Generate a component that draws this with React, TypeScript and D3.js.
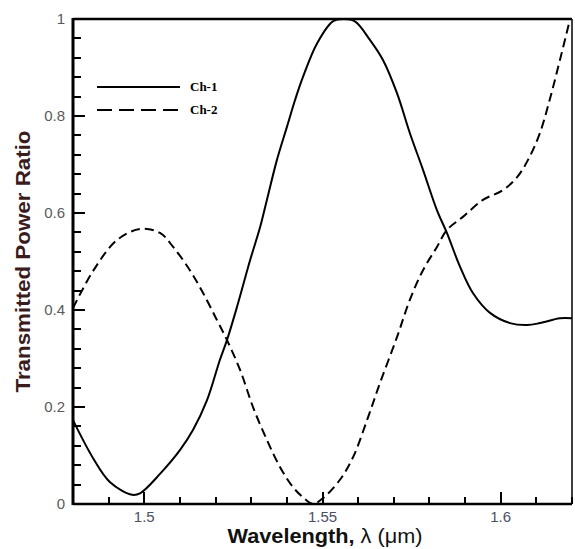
import * as d3 from "d3";

// wavelength (um) / transmitted power ratio
const ch1Wl = [1.48, 1.4856, 1.4904, 1.4966, 1.4988, 1.5044, 1.51, 1.5137, 1.5176, 1.5212, 1.5232, 1.526, 1.5297, 1.5325, 1.5344, 1.5372, 1.54, 1.5423, 1.5445, 1.5485, 1.5529, 1.556, 1.5591, 1.5633, 1.567, 1.5709, 1.5745, 1.5782, 1.5821, 1.5849, 1.5886, 1.5922, 1.597, 1.6026, 1.6074, 1.611, 1.6166, 1.62];
const ch1Val = [0.173, 0.095, 0.045, 0.019, 0.022, 0.062, 0.111, 0.153, 0.214, 0.297, 0.338, 0.406, 0.503, 0.571, 0.627, 0.709, 0.777, 0.833, 0.88, 0.95, 0.995, 1.0, 0.995, 0.957, 0.915, 0.847, 0.765, 0.689, 0.606, 0.559, 0.489, 0.435, 0.394, 0.373, 0.369, 0.373, 0.383, 0.383];

const ch2Wl = [1.48, 1.4856, 1.4923, 1.4988, 1.5044, 1.5081, 1.5128, 1.5165, 1.5204, 1.5232, 1.5269, 1.5305, 1.5344, 1.5381, 1.5417, 1.5445, 1.5473, 1.5501, 1.5549, 1.5586, 1.5625, 1.5661, 1.5709, 1.5745, 1.5782, 1.5821, 1.5849, 1.5894, 1.595, 1.6006, 1.6046, 1.6077, 1.611, 1.6138, 1.6166, 1.6194];
const ch2Val = [0.404, 0.48, 0.544, 0.567, 0.559, 0.53, 0.482, 0.435, 0.379, 0.338, 0.276, 0.2, 0.132, 0.076, 0.035, 0.014, 0.0, 0.012, 0.05, 0.097, 0.173, 0.249, 0.344, 0.421, 0.482, 0.53, 0.565, 0.592, 0.627, 0.647, 0.674, 0.71, 0.765, 0.835, 0.915, 0.998];

const xTicks = [1.5, 1.55, 1.6];
const yTicks = [0, 0.2, 0.4, 0.6, 0.8, 1];
const xMinor = [1.48, 1.49, 1.5, 1.51, 1.52, 1.53, 1.54, 1.55, 1.56, 1.57, 1.58, 1.59, 1.6, 1.61, 1.62];
const yMinor = [0, 0.04, 0.08, 0.12, 0.16, 0.2, 0.24, 0.28, 0.32, 0.36, 0.4, 0.44, 0.48, 0.52, 0.56, 0.6, 0.64, 0.68, 0.72, 0.76, 0.8, 0.84, 0.88, 0.92, 0.96, 1];
const legendNames = ["Ch-1", "Ch-2"];

const width = 575;
const height = 549;
const margin = { top: 19, right: 3, bottom: 45, left: 73 };

const sans = "Liberation Sans, Arial, sans-serif";

export default function App() {
  const x = d3.scaleLinear().domain([1.48, 1.62]).range([margin.left, width - margin.right]);
  const y = d3.scaleLinear().domain([0, 1]).range([height - margin.bottom, margin.top]);
  const x0 = margin.left, x1 = width - margin.right;
  const y0 = height - margin.bottom, y1 = margin.top;

  const line = d3.line<[number, number]>()
    .x((d) => x(d[0])).y((d) => y(d[1]))
    .curve(d3.curveCatmullRom.alpha(0.5));

  const ch1 = ch1Wl.map((w, i) => [w, ch1Val[i]] as [number, number]);
  const ch2 = ch2Wl.map((w, i) => [w, ch2Val[i]] as [number, number]);

  const isMajor = (arr: number[], v: number) => arr.some((t) => Math.abs(t - v) < 1e-6);

  return (
    <svg width={width} height={height} style={{ position: "absolute", left: 0, top: 0, background: "#fff" }}>
      <defs>
        <clipPath id="plot-clip">
          <rect x={x0} y={y1 - 1} width={x1 - x0} height={y0 - y1 + 1} />
        </clipPath>
      </defs>

      {/* ticks, pointing inward */}
      {xMinor.map((d, i) => (
        <rect key={"xt" + i} x={Math.round(x(d)) - 1} y={y0 - (isMajor(xTicks, d) ? 12 : 7)}
          width={2} height={isMajor(xTicks, d) ? 12 : 7} fill="#000" />
      ))}
      {yMinor.map((d, i) => (
        <rect key={"yt" + i} x={x0} y={Math.round(y(d)) - 1}
          width={isMajor(yTicks, d) ? 12 : 8} height={2} fill="#000" />
      ))}

      {/* frame */}
      <line x1={x0} x2={x1} y1={y1} y2={y1} stroke="#000" strokeWidth={2.5} />
      <line x1={x1} x2={x1} y1={y1} y2={y0} stroke="#000" strokeWidth={1.5} />
      <line x1={x0} x2={x1} y1={y0} y2={y0} stroke="#000" strokeWidth={2.5} />
      <line x1={x0} x2={x0} y1={y1 - 1} y2={y0 + 1} stroke="#000" strokeWidth={3} />

      {/* tick labels */}
      {xTicks.map((d) => (
        <text key={"xl" + d} x={x(d)} y={y0 + 18} textAnchor="middle"
          fontFamily={sans} fontSize={15} fill="#4a4f66">{String(d)}</text>
      ))}
      {yTicks.map((d) => (
        <text key={"yl" + d} x={x0 - 8} y={y(d) + 5} textAnchor="end"
          fontFamily={sans} fontSize={15} fill="#5a5a5a">{String(d)}</text>
      ))}

      {/* axis titles */}
      <text transform={`translate(30, ${(y0 + y1) / 2}) rotate(-90)`} textAnchor="middle"
        textLength={262} lengthAdjust="spacingAndGlyphs"
        fontFamily={sans} fontSize={21} fontWeight="bold" fill="#3a1c1c">
        Transmitted Power Ratio
      </text>
      <text x={325} y={y0 + 39} textAnchor="middle" textLength={195} lengthAdjust="spacingAndGlyphs"
        fontFamily={sans} fontSize={20} fill="#111">
        <tspan fontWeight="bold">Wavelength,</tspan>
        <tspan> λ (μm)</tspan>
      </text>

      {/* curves */}
      <g clipPath="url(#plot-clip)">
        <path d={line(ch1) ?? ""} fill="none" stroke="#000" strokeWidth={2} />
        <path d={line(ch2) ?? ""} fill="none" stroke="#000" strokeWidth={2} strokeDasharray="9,5" />
      </g>

      {/* legend */}
      {legendNames.map((name, i) => {
        const ly = 87 + i * 23;
        return (
          <g key={name}>
            <line x1={97} x2={180} y1={ly} y2={ly} stroke="#000" strokeWidth={2}
              strokeDasharray={i === 1 ? "15,7" : undefined} />
            <text x={190} y={ly + 4} fontFamily="Liberation Serif, Times New Roman, serif"
              fontSize={13} fontWeight="bold" fill="#000">{name}</text>
          </g>
        );
      })}
    </svg>
  );
}
